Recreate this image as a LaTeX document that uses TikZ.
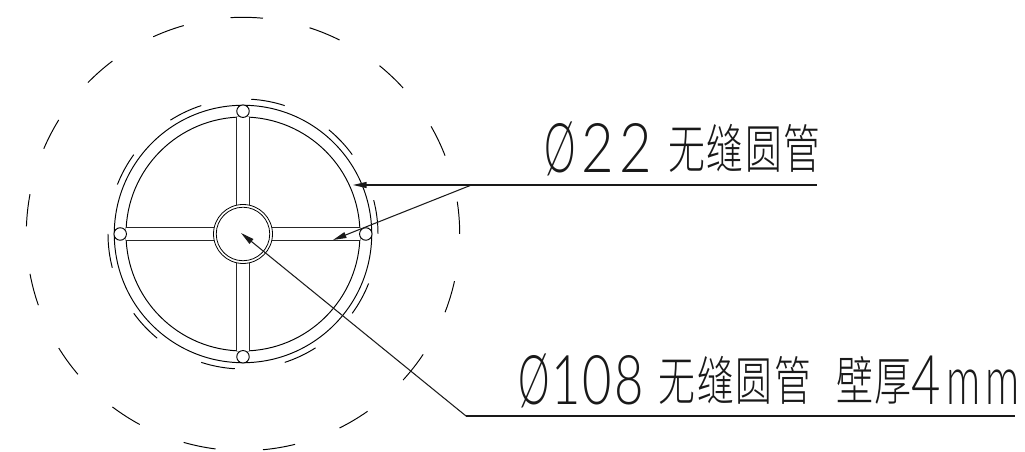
\documentclass[tikz,border=0pt]{standalone}
\usepackage{fontspec}
\usetikzlibrary{positioning, arrows.meta}
\newfontfamily\cadlat[FakeStretch=.82,LetterSpace=8]{Lato Light}
\newfontfamily\cadnum[FakeStretch=.74,LetterSpace=3]{Lato Light}
\newfontfamily\cadphi[FakeStretch=.58]{Lato Light}
\newfontfamily\cadmm[FakeStretch=.62,LetterSpace=6]{Lato Light}
\newfontfamily\cadcjk[FakeStretch=.7,LetterSpace=3]{Noto Sans CJK SC Light}
\newcommand{\cadname}[1]{\raisebox{.08cm}{\fontsize{30}{30}\cadcjk #1}}
\tikzstyle{ring}=[circle, draw=black, inner sep=0, line width=.55pt]
\tikzstyle{pin}=[ring, fill=white, minimum size=.25cm]
\tikzstyle{spoke}=[draw=black!85, line width=.6pt, double=white, double distance=.25cm]
\tikzstyle{dashring}=[draw=black, line width=.55pt]
\tikzstyle{lead}=[draw=black!90, line width=.6pt]
\tikzstyle{tip}=[lead, -{Triangle[length=.27cm,width=.12cm]}]
\tikzstyle{cadtext}=[inner sep=0, outer sep=0, text=black!90, font=\fontsize{39}{39}\selectfont]

\begin{document}
\begin{tikzpicture}[x=.02cm, y=.02cm]
            \useasboundingbox (0,0) rectangle (1025,452);
            %tube wheel with rim, hub and four spokes
            \coordinate (axis) at (243,218);
            \node[ring, minimum size=4.68cm](rimin) at (axis){};
            \node[ring, minimum size=5.15cm](rimout) at (axis){};
            \foreach \n/\a in {0/0,1/90,2/180,3/270}{
                \draw[spoke] (axis) to (rimin.\a);
                \node[pin](pin\n) at ([shift={(\a:122.8)}]axis){};
            }
            \node[ring, fill=white, line width=.45pt, minimum size=1.18cm](hubout) at (axis){};
            \node[ring, line width=.45pt, minimum size=1.07cm](hubin) at (axis){};
            %dashed outlines
            \foreach \n in {0,...,16}{
                \pgfmathsetmacro\aa{\n*360/17}
                \draw[dashring] (axis) ++(\aa:216.7) arc[start angle=\aa, delta angle=8.6, radius=4.334cm];
            }
            \foreach \n in {0,...,9}{
                \pgfmathsetmacro\aa{\n*36}
                \draw[dashring] (axis) ++(\aa:135) arc[start angle=\aa, delta angle=14.5, radius=2.7cm];
            }
            %leaders
            \coordinate (kneeup) at (471.5,267);
            \coordinate (endup) at (817,267);
            \coordinate (tiprim) at (353,267);
            \coordinate (tipspoke) at (333,212);
            \coordinate (kneelow) at (466,36);
            \coordinate (endlow) at (1015,36);
            \coordinate (tiphub) at (241,219);
            \draw[lead] (kneeup) to (endup);
            \draw[tip] (kneeup) to (tiprim);
            \draw[tip] (kneeup) to (tipspoke);
            \draw[lead] (kneelow) to (endlow);
            \draw[tip] (kneelow) to (tiphub);
            %labels
            \node[cadtext, anchor=base west](textup) at (544,279.5){\cadphi Ø\hspace{.12cm}\cadlat 22\hspace{.32cm}\cadname{无缝圆管}};
            \node[cadtext, anchor=base west](textlow) at (518,47){\cadphi Ø\hspace{.04cm}\cadnum 108\hspace{.3cm}\cadname{无缝圆管\hspace{.5cm}壁厚}\cadnum 4\hspace{.12cm}\cadmm mm};
        \end{tikzpicture}
\end{document}
